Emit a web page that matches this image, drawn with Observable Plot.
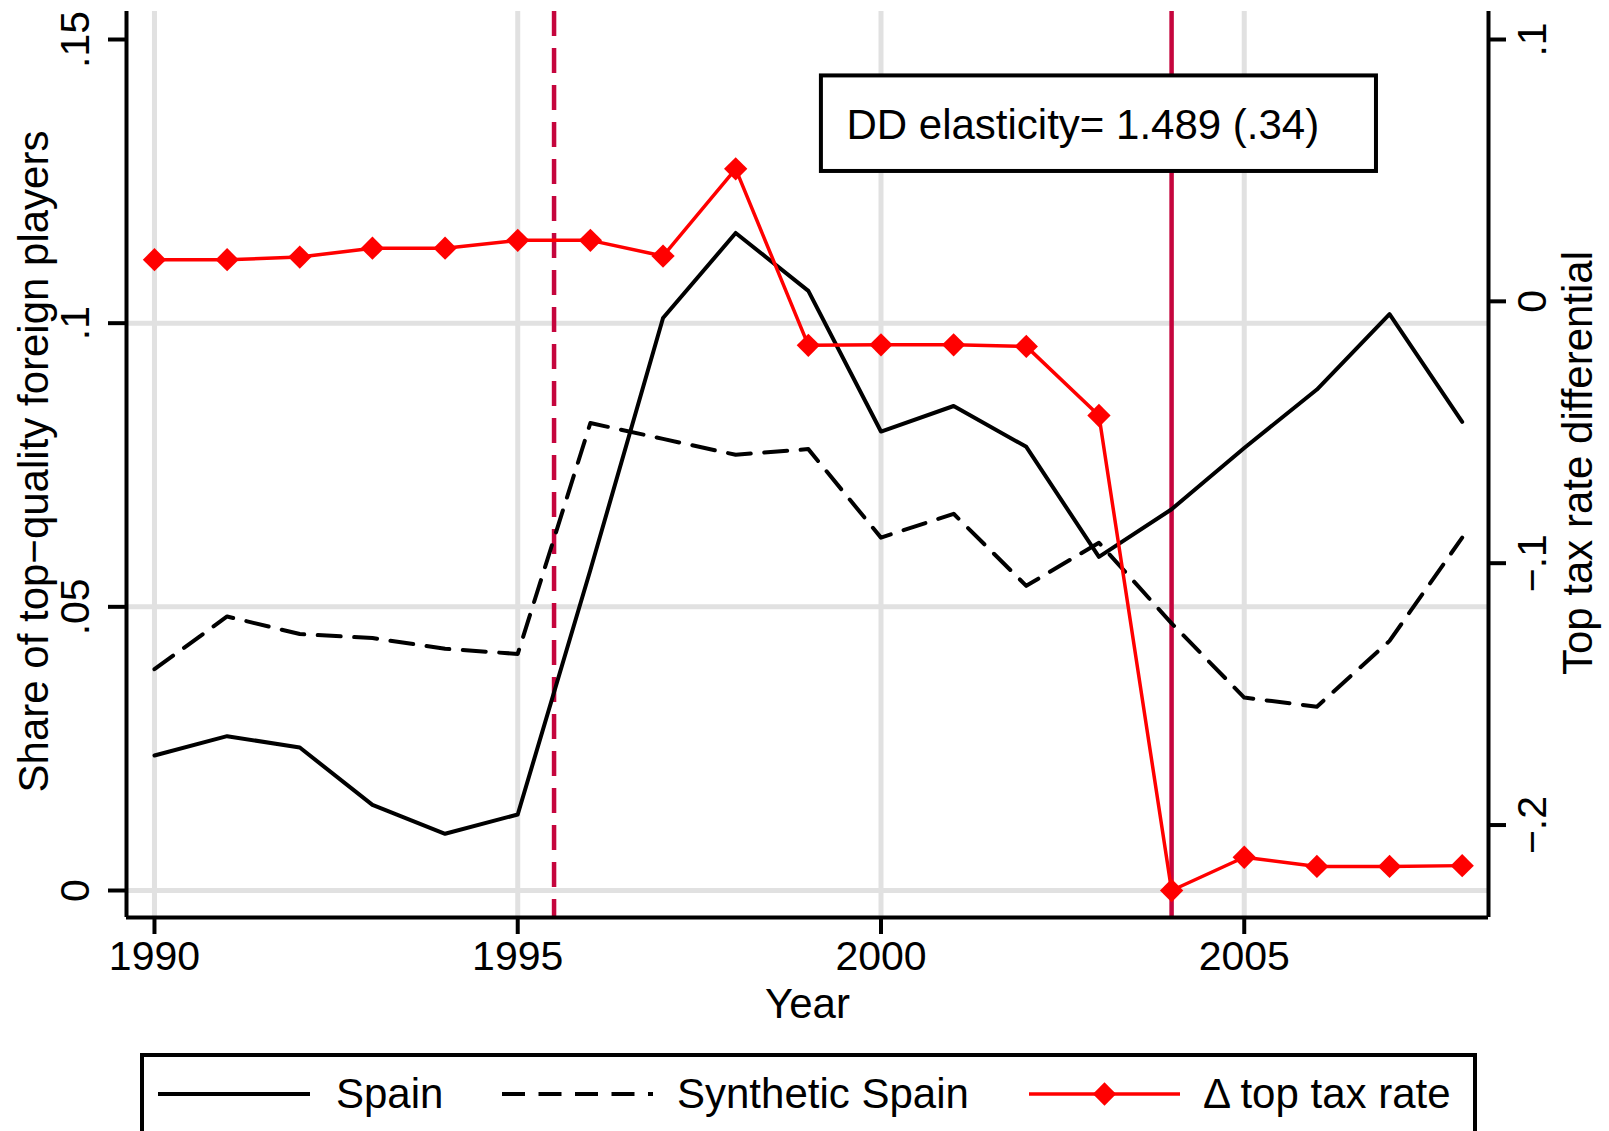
<!DOCTYPE html>
<html>
<head>
<meta charset="utf-8">
<script src="https://cdn.jsdelivr.net/npm/d3@7"></script>
<script src="https://cdn.jsdelivr.net/npm/@observablehq/plot@0.6"></script>
<style>
  html, body { margin: 0; padding: 0; background: white; }
  #wrap { position: relative; width: 1609px; height: 1131px; overflow: hidden; background: white;
          font-family: "Liberation Sans", Arial, Helvetica, sans-serif; }
  #chart { position: absolute; left: 0; top: 0; }
  #legend { position: absolute; left: 140px; top: 1053px; }
</style>
</head>
<body>
<div id="wrap">
  <div id="chart"></div>
  <div id="legend"></div>
</div>
<script>
// ---- Data ----
const years = [1990, 1991, 1992, 1993, 1994, 1995, 1996, 1997, 1998, 1999,
               2000, 2001, 2002, 2003, 2004, 2005, 2006, 2007, 2008];
const spain = [0.0238, 0.0272, 0.0252, 0.0151, 0.0100, 0.0134, 0.0565, 0.1009, 0.1159, 0.1057,
               0.0809, 0.0854, 0.0782, 0.0588, 0.0672, 0.0780, 0.0883, 0.1016, 0.0826];
const syntheticSpain = [0.0390, 0.0483, 0.0452, 0.0445, 0.0426, 0.0417, 0.0824, 0.0796, 0.0768, 0.0778,
               0.0622, 0.0664, 0.0537, 0.0613, 0.0471, 0.0340, 0.0324, 0.0440, 0.0622];
const taxDiff = [0.0159, 0.0159, 0.0169, 0.0203, 0.0203, 0.0233, 0.0233, 0.0173, 0.0506, -0.0168,
               -0.0166, -0.0166, -0.0172, -0.0436, -0.2250, -0.2123, -0.2158, -0.2158, -0.2155];
const xTicks = [1990, 1995, 2000, 2005];
const leftTicks = [0, 0.05, 0.1, 0.15];
const leftGrid = [0, 0.05, 0.1];
const rightTicks = [-0.2, -0.1, 0, 0.1];
const dashedEventYear = [1995.5];
const solidEventYear = [2004];
const noteText = "DD elasticity= 1.489 (.34)";
const legendLabels = ["Spain", "Synthetic Spain", "\u0394 top tax rate"];

// ---- Build tables ----
const spainData = years.map((year, i) => ({year, value: spain[i]}));
const synthData = years.map((year, i) => ({year, value: syntheticSpain[i]}));
const taxData = years.map((year, i) => ({year, value: taxDiff[i]}));

// right axis (-0.225 .. 0.1) mapped onto left axis (0 .. 0.15)
const R0 = -0.225, R1 = 0.1, L0 = 0, L1 = 0.15;
const toLeft = r => L0 + (r - R0) * (L1 - L0) / (R1 - R0);

const fmt = v => {
  const r = Math.round(v * 1000) / 1000;
  if (r === 0) return "0";
  let s = String(Math.abs(r)).replace(/^0\./, ".");
  return (r < 0 ? "\u2212" : "") + s;
};

const xDomain = [1989.615, 2008.362];
const yDomain = [-0.004759, 0.154936];

const crimson = "#c5053d";
const gridColor = "#e1e1e1";
const FONT = '"Liberation Sans", Arial, Helvetica, sans-serif';
const diamondR = 10.5;

const chart = Plot.plot({
  width: 1609,
  height: 1040,
  marginTop: 11,
  marginLeft: 126,
  marginRight: 121,
  marginBottom: 123,
  style: {fontFamily: FONT, fontSize: "41px", color: "black", background: "white", overflow: "visible"},
  x: {domain: xDomain},
  y: {domain: yDomain},
  marks: [
    // gridlines
    Plot.ruleX(xTicks, {stroke: gridColor, strokeWidth: 5}),
    Plot.ruleY(leftGrid, {stroke: gridColor, strokeWidth: 5}),
    // event lines
    Plot.ruleX(dashedEventYear, {stroke: crimson, strokeWidth: 4.5, strokeDasharray: "25,12"}),
    Plot.ruleX(solidEventYear, {stroke: crimson, strokeWidth: 4.5}),
    // series
    Plot.line(synthData, {x: "year", y: "value", stroke: "black", strokeWidth: 4, strokeDasharray: "23,13.5"}),
    Plot.line(spainData, {x: "year", y: "value", stroke: "black", strokeWidth: 4}),
    Plot.line(taxData, {x: "year", y: d => toLeft(d.value), stroke: "red", strokeWidth: 3.5}),
    Plot.dot(taxData, {x: "year", y: d => toLeft(d.value), symbol: "diamond2", r: diamondR, fill: "red"}),
    // annotation box
    Plot.rect([noteText], {x1: 1999.18, x2: 2006.82, y1: 0.12674, y2: 0.14358,
      fill: "white", stroke: "black", strokeWidth: 4}),
    Plot.text([noteText], {x: 1999.525, y: 0.13516, text: d => d, textAnchor: "start",
      lineAnchor: "middle", fontSize: 42, dy: 1.5, fill: "black"}),
    // axis lines
    Plot.ruleX([xDomain[0]], {stroke: "black", strokeWidth: 4}),
    Plot.ruleX([xDomain[1]], {stroke: "black", strokeWidth: 4}),
    Plot.ruleY([yDomain[0]], {stroke: "black", strokeWidth: 4}),
    // x axis
    Plot.axisX(xTicks, {anchor: "bottom", tickSize: 17, tickPadding: 6, fontSize: 41,
      strokeWidth: 4, label: null, tickFormat: d => String(d)}),
    Plot.text(["Year"], {frameAnchor: "bottom", dy: 100, lineAnchor: "bottom", fontSize: 42, fill: "black"}),
    // left axis ticks + rotated labels
    Plot.axisY(leftTicks, {anchor: "left", tickSize: 18, strokeWidth: 4, label: null, tickFormat: () => ""}),
    Plot.text(leftTicks, {y: d => d, text: d => fmt(d), frameAnchor: "left", dx: -37.4, rotate: -90,
      textAnchor: "middle", lineAnchor: "bottom", fontSize: 41, fill: "black"}),
    Plot.text(["Share of top\u2212quality foreign players"], {frameAnchor: "left", dx: -79, dy: -3, rotate: -90,
      textAnchor: "middle", lineAnchor: "bottom", fontSize: 42, fill: "black"}),
    // right axis ticks + rotated labels
    Plot.axisY(rightTicks.map(toLeft), {anchor: "right", tickSize: 17, strokeWidth: 4, label: null, tickFormat: () => ""}),
    Plot.text(rightTicks, {y: d => toLeft(d), text: d => fmt(d), frameAnchor: "right", dx: 57, rotate: -90,
      textAnchor: "middle", lineAnchor: "bottom", fontSize: 41, fill: "black"}),
    Plot.text(["Top tax rate differential"], {frameAnchor: "right", dx: 103, dy: -1.5, rotate: -90,
      textAnchor: "middle", lineAnchor: "bottom", fontSize: 42, fill: "black"})
  ]
});
document.getElementById("chart").appendChild(chart);

// ---- Legend (below the SVG) ----
const lg = d3.select("#legend").append("svg")
  .attr("width", 1337).attr("height", 90)
  .style("font-family", FONT);
lg.append("rect").attr("x", 2).attr("y", 2).attr("width", 1333).attr("height", 130)
  .attr("fill", "white").attr("stroke", "black").attr("stroke-width", 4);
const ly = 41, ty = 55;
lg.append("line").attr("x1", 18).attr("x2", 170).attr("y1", ly).attr("y2", ly)
  .attr("stroke", "black").attr("stroke-width", 4);
lg.append("text").attr("x", 196).attr("y", ty).attr("font-size", 42).text(legendLabels[0]);
lg.append("line").attr("x1", 362).attr("x2", 513).attr("y1", ly).attr("y2", ly)
  .attr("stroke", "black").attr("stroke-width", 4).attr("stroke-dasharray", "23,13.5");
lg.append("text").attr("x", 537).attr("y", ty).attr("font-size", 42).text(legendLabels[1]);
lg.append("line").attr("x1", 889).attr("x2", 1040).attr("y1", ly).attr("y2", ly)
  .attr("stroke", "red").attr("stroke-width", 3.5);
lg.append("path").attr("d", d3.symbol(d3.symbolDiamond2, Math.PI * diamondR * diamondR)())
  .attr("transform", `translate(964.5,${ly})`).attr("fill", "red");
lg.append("text").attr("x", 1063).attr("y", ty).attr("font-size", 42).text(legendLabels[2]);
</script>
</body>
</html>
